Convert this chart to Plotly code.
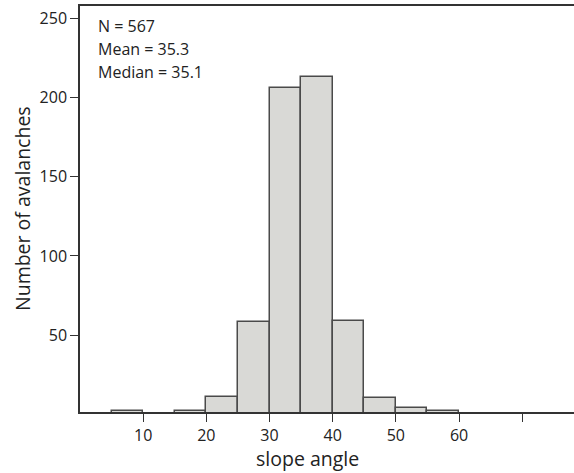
import plotly.graph_objects as go

bin_left = [5, 10, 15, 20, 25, 30, 35, 40, 45, 50, 55]
counts = [2, 0, 2, 11, 58, 206, 213, 59, 10, 4, 2]
bin_width = 5
x_tickvals = [10, 20, 30, 40, 50, 60, 70]
x_ticktext = ["10", "20", "30", "40", "50", "60", ""]
y_tickvals = [50, 100, 150, 200, 250]
stats_lines = ["N = 567", "Mean = 35.3", "Median = 35.1"]

centers = [b + bin_width / 2 for b in bin_left]

FONT = "Open Sans, Lato, sans-serif"

fig = go.Figure(go.Bar(
    x=centers, y=counts, width=[bin_width] * len(counts),
    marker=dict(color="#d9d9d6", line=dict(color="#4a4a4a", width=1.5)),
    hoverinfo="skip",
))

fig.update_layout(
    width=574, height=473,
    margin=dict(l=80, r=0, t=6, b=61),
    plot_bgcolor="white", paper_bgcolor="white",
    showlegend=False, bargap=0,
    font=dict(family=FONT, size=16, color="#222"),
)
fig.update_xaxes(
    range=[0, 78.2], showgrid=False, zeroline=False, automargin=False,
    showline=True, linecolor="#333", linewidth=1.5, mirror=True,
    ticks="outside", ticklen=8, tickcolor="#333", tickwidth=1.2,
    tickvals=x_tickvals, ticktext=x_ticktext,
    tickfont=dict(size=16, color="#222"),
)
fig.update_yaxes(
    range=[1.4, 257.9], showgrid=False, zeroline=False, automargin=False,
    showline=True, linecolor="#333", linewidth=1.5,
    ticks="outside", ticklen=8, tickcolor="#333", tickwidth=1.2,
    tickvals=y_tickvals, tickfont=dict(size=16, color="#222"),
)
fig.add_annotation(
    text="Number of avalanches", xref="paper", yref="paper", x=0, y=0.5,
    xshift=-58, showarrow=False, textangle=-90, xanchor="center", yanchor="middle",
    font=dict(size=19.5, color="#222"),
)
fig.add_annotation(
    text="slope angle", xref="paper", yref="paper", x=0.46, y=0,
    yshift=-46, showarrow=False, xanchor="center", yanchor="middle",
    font=dict(size=19.5, color="#222"),
)
for i, line in enumerate(stats_lines):
    fig.add_annotation(
        text=line, xref="paper", yref="paper", x=0, y=1,
        xshift=16, yshift=-(20 + 23.2 * i), showarrow=False,
        xanchor="left", yanchor="middle", align="left",
        font=dict(size=16, color="#222"),
    )

fig.write_html(
    "out.html",
    config={"displayModeBar": False},
    post_script="document.body.style.margin='0';document.body.style.overflow='hidden';",
)
